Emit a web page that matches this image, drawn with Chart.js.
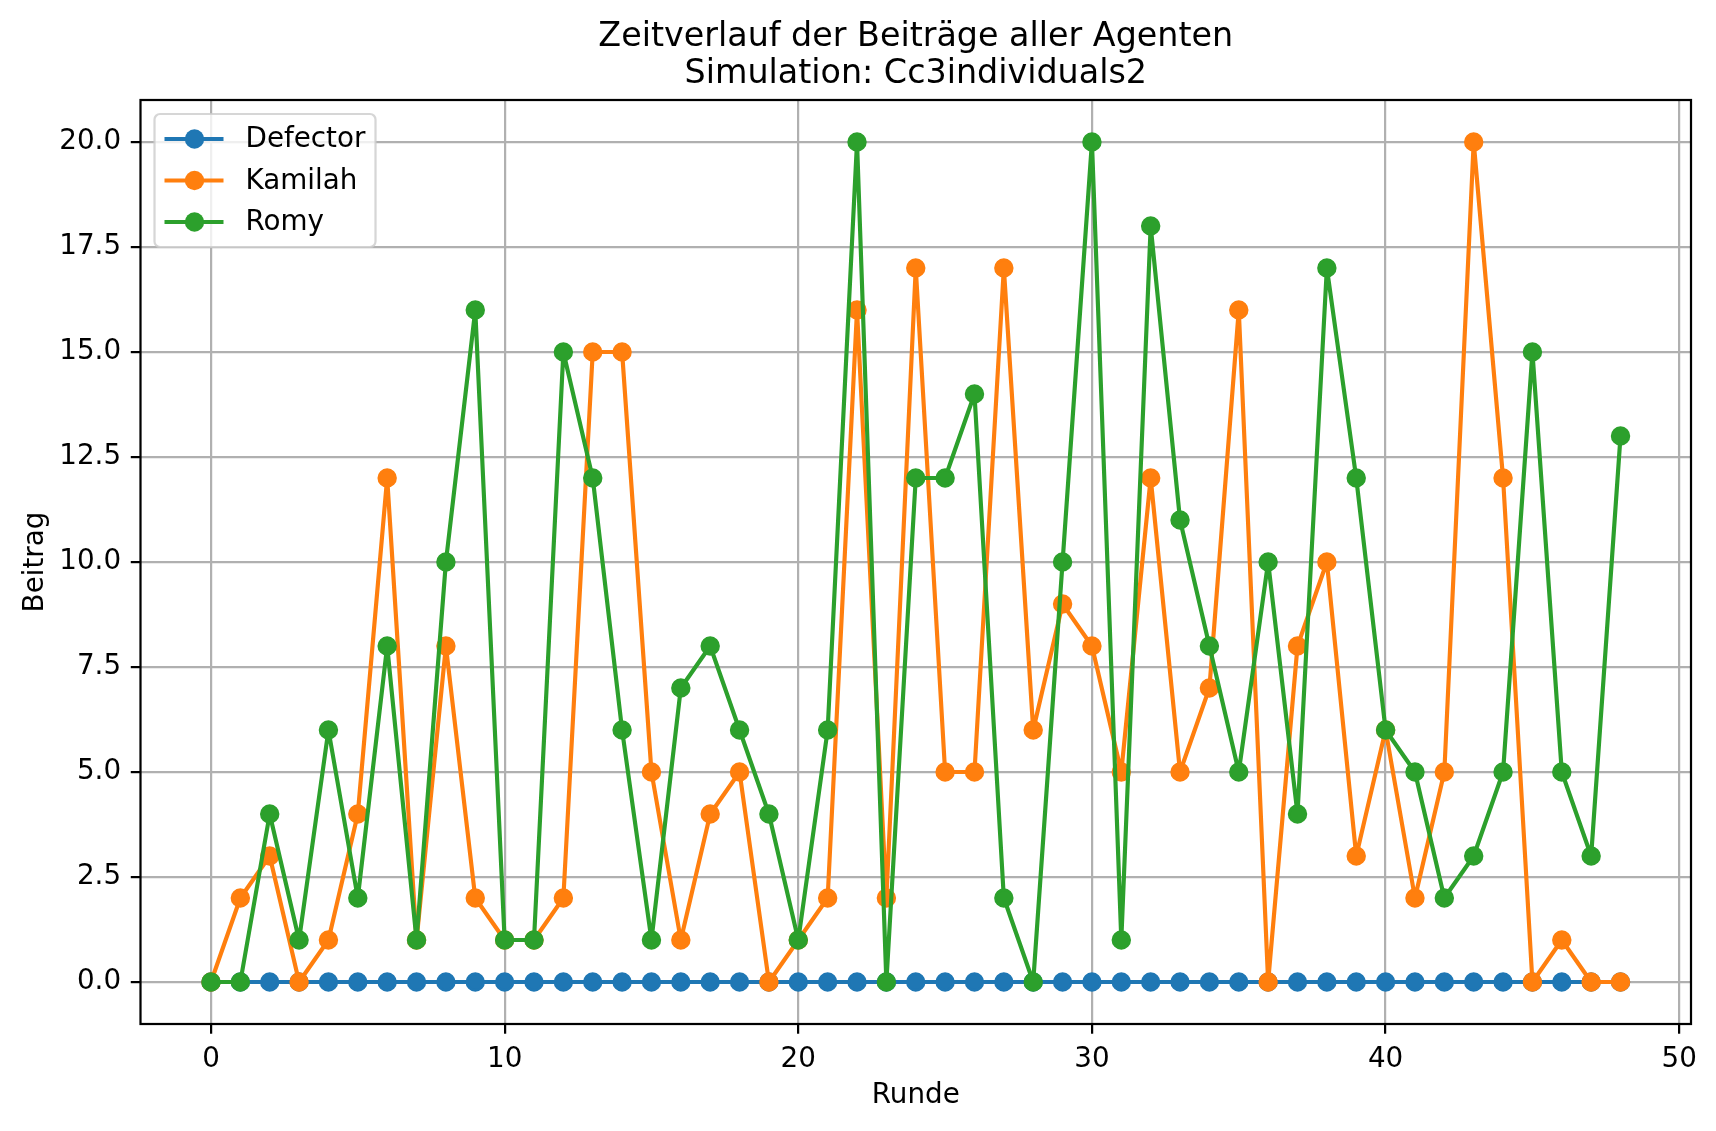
<!DOCTYPE html>
<html>
<head>
<meta charset="utf-8">
<title>Zeitverlauf der Beiträge aller Agenten</title>
<script src="https://cdn.jsdelivr.net/npm/chart.js@4.4.1/dist/chart.umd.min.js"></script>
<style>
    html, body { margin: 0; padding: 0; background: #ffffff; }
    canvas { display: block; }
</style>
</head>
<body>
<canvas id="beitragChart" width="1716" height="1131"></canvas>
<script>
// --- Data ---
const rounds = [0, 1, 2, 3, 4, 5, 6, 7, 8, 9, 10, 11, 12, 13, 14, 15, 16, 17, 18, 19, 20, 21, 22, 23, 24,
    25, 26, 27, 28, 29, 30, 31, 32, 33, 34, 35, 36, 37, 38, 39, 40, 41, 42, 43, 44, 45, 46, 47, 48];
const defector = [0, 0, 0, 0, 0, 0, 0, 0, 0, 0, 0, 0, 0, 0, 0, 0, 0, 0, 0, 0, 0, 0, 0, 0, 0,
    0, 0, 0, 0, 0, 0, 0, 0, 0, 0, 0, 0, 0, 0, 0, 0, 0, 0, 0, 0, 0, 0, 0, 0];
const kamilah = [0, 2, 3, 0, 1, 4, 12, 1, 8, 2, 1, 1, 2, 15, 15, 5, 1, 4, 5, 0, 1, 2, 16, 2, 17,
    5, 5, 17, 6, 9, 8, 5, 12, 5, 7, 16, 0, 8, 10, 3, 6, 2, 5, 20, 12, 0, 1, 0, 0];
const romy = [0, 0, 4, 1, 6, 2, 8, 1, 10, 16, 1, 1, 15, 12, 6, 1, 7, 8, 6, 4, 1, 6, 20, 0, 12,
    12, 14, 2, 0, 10, 20, 1, 18, 11, 8, 5, 10, 4, 17, 12, 6, 5, 2, 3, 5, 15, 5, 3, 13];
const seriesNames = ['Defector', 'Kamilah', 'Romy'];
const xTicks = [0, 10, 20, 30, 40, 50];
const yTicks = [0, 2.5, 5, 7.5, 10, 12.5, 15, 17.5, 20];
const titleLines = ['Zeitverlauf der Beiträge aller Agenten', 'Simulation: Cc3individuals2'];

// --- Style ---
const colors = ['#1f77b4', '#ff7f0e', '#2ca02c'];
const FONT = "'DejaVu Sans', sans-serif";
const PT = 200 / 72;           // reference was rendered at 200 dpi
const baseSize = 10 * PT;

function toPoints(values) {
    return rounds.map((r, i) => ({ x: r, y: values[i] }));
}

function makeDataset(i, values) {
    return {
        label: seriesNames[i],
        data: toPoints(values),
        borderColor: colors[i],
        backgroundColor: colors[i],
        pointBackgroundColor: colors[i],
        pointBorderColor: colors[i],
        borderWidth: 1.5 * PT,
        borderJoinStyle: 'round',
        borderCapStyle: 'butt',
        pointRadius: 3 * PT,
        pointBorderWidth: 1 * PT,
        pointHoverRadius: 3 * PT,
        tension: 0,
        order: 2 - i   // later series drawn on top, like matplotlib
    };
}

// --- Plugins ---
const frameAndTitle = {
    id: 'frameAndTitle',
    afterDatasetsDraw(chart) {
        const { ctx, chartArea: a } = chart;
        ctx.save();
        ctx.strokeStyle = '#000000';
        ctx.lineWidth = 0.8 * PT;
        ctx.strokeRect(a.left, a.top, a.right - a.left, a.bottom - a.top);

        ctx.fillStyle = '#000000';
        ctx.font = (12 * PT) + 'px ' + FONT;
        ctx.textAlign = 'center';
        ctx.textBaseline = 'alphabetic';
        const cx = (a.left + a.right) / 2;
        const lastBase = a.top - 6 * PT;
        const step = 37.6;
        titleLines.forEach((t, i) => {
            ctx.fillText(t, cx, lastBase - (titleLines.length - 1 - i) * step);
        });
        ctx.restore();
    }
};

const boxLegend = {
    id: 'boxLegend',
    afterDraw(chart) {
        const { ctx, chartArea: a } = chart;
        const x0 = a.left + 14, y0 = a.top + 14;
        const w = 221, h = 133, r = 2 * PT;
        ctx.save();
        ctx.beginPath();
        ctx.roundRect(x0, y0, w, h, r);
        ctx.fillStyle = 'rgba(255,255,255,0.8)';
        ctx.fill();
        ctx.strokeStyle = 'rgba(204,204,204,0.8)';
        ctx.lineWidth = 0.8 * PT;
        ctx.stroke();

        ctx.font = baseSize + 'px ' + FONT;
        ctx.textBaseline = 'middle';
        ctx.textAlign = 'left';
        chart.data.datasets.forEach((ds, i) => {
            const y = y0 + 25 + i * 41.5;
            ctx.strokeStyle = ds.borderColor;
            ctx.lineWidth = ds.borderWidth;
            ctx.beginPath();
            ctx.moveTo(x0 + 10, y);
            ctx.lineTo(x0 + 69, y);
            ctx.stroke();
            ctx.fillStyle = ds.borderColor;
            ctx.beginPath();
            ctx.arc(x0 + 40, y, ds.pointRadius + ds.pointBorderWidth / 2, 0, Math.PI * 2);
            ctx.fill();
            ctx.fillStyle = '#000000';
            ctx.fillText(ds.label, x0 + 91, y + 1);
        });
        ctx.restore();
    }
};

// --- Chart ---
const gridStyle = {
    color: '#b0b0b0',
    lineWidth: 0.8 * PT,
    drawTicks: true,
    tickLength: 3.5 * PT,
    tickColor: '#000000',
    tickWidth: 0.8 * PT
};

new Chart(document.getElementById('beitragChart').getContext('2d'), {
    type: 'line',
    data: {
        datasets: [
            makeDataset(0, defector),
            makeDataset(1, kamilah),
            makeDataset(2, romy)
        ]
    },
    options: {
        responsive: false,
        animation: false,
        devicePixelRatio: 1,
        layout: { padding: { top: 100, right: 25, bottom: 0, left: 0 } },
        plugins: {
            legend: { display: false },
            title: { display: false },
            tooltip: { enabled: false }
        },
        scales: {
            x: {
                type: 'linear',
                min: -2.4,
                max: 50.4,
                grid: gridStyle,
                border: { display: false },
                afterBuildTicks: s => { s.ticks = xTicks.map(v => ({ value: v })); },
                afterFit: s => { s.height = 107; },
                ticks: {
                    color: '#000000',
                    padding: 3.5 * PT,
                    maxRotation: 0,
                    font: { family: FONT, size: baseSize },
                    callback: v => String(v)
                },
                title: {
                    display: true,
                    text: 'Runde',
                    color: '#000000',
                    font: { family: FONT, size: baseSize },
                    padding: { top: 0, bottom: 19 }
                }
            },
            y: {
                type: 'linear',
                min: -1,
                max: 21,
                grid: gridStyle,
                border: { display: false },
                afterBuildTicks: s => { s.ticks = yTicks.map(v => ({ value: v })); },
                afterFit: s => { s.width = 140.5; },
                ticks: {
                    color: '#000000',
                    padding: 3.5 * PT,
                    font: { family: FONT, size: baseSize },
                    callback: v => v.toFixed(1)
                },
                title: {
                    display: true,
                    text: 'Beitrag',
                    color: '#000000',
                    font: { family: FONT, size: baseSize },
                    padding: { top: 19, bottom: 0 }
                }
            }
        }
    },
    plugins: [frameAndTitle, boxLegend]
});
</script>
</body>
</html>
